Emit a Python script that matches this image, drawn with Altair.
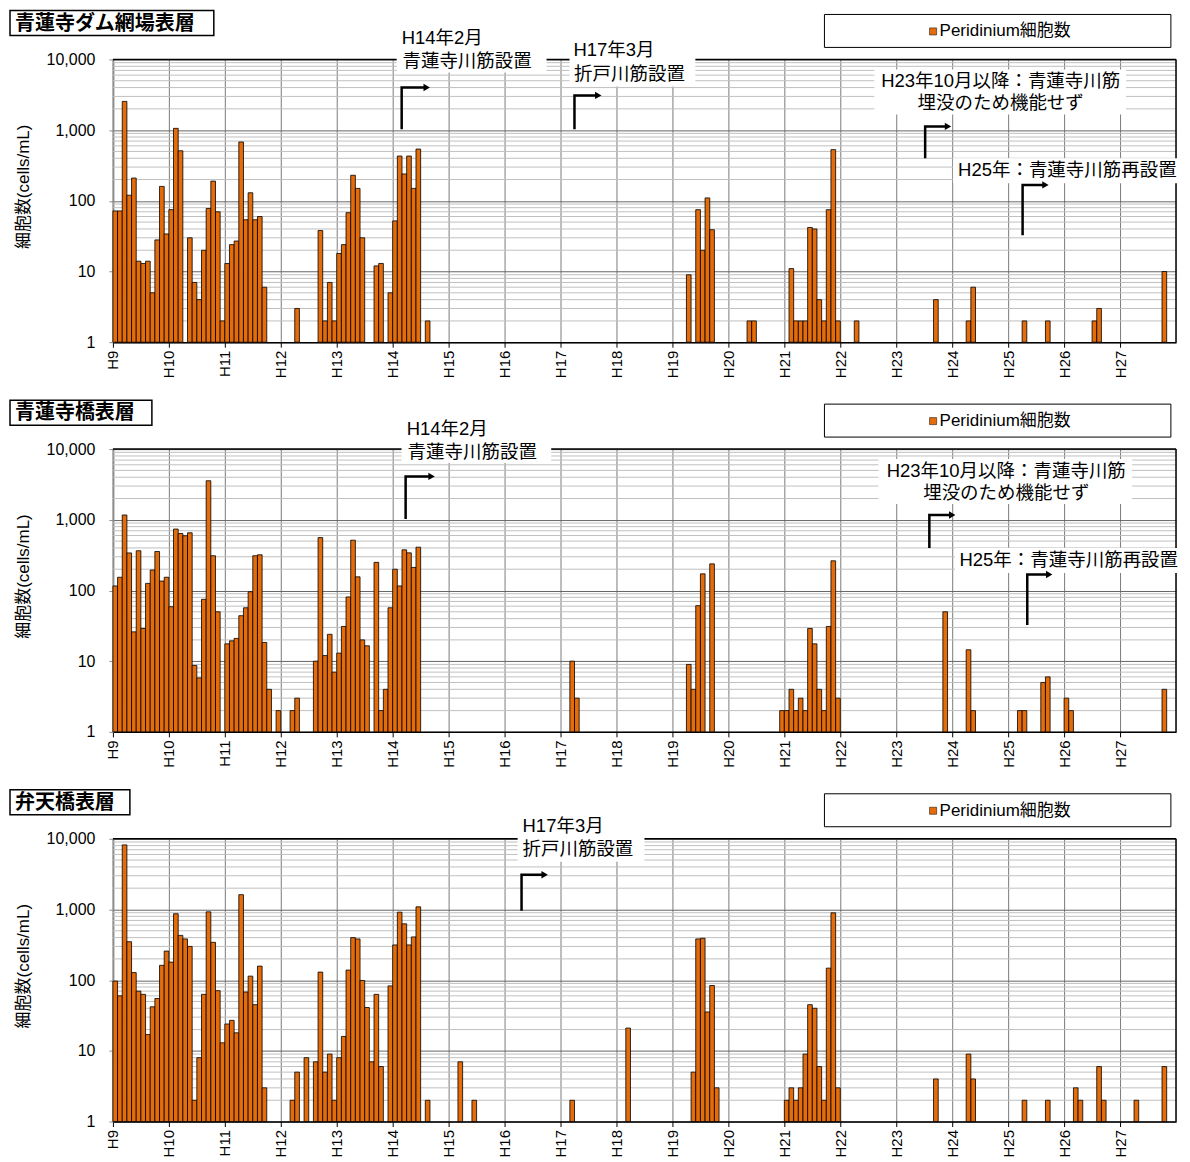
import altair as alt
import pandas as pd

# ---------------- data ----------------
YEAR_LABELS = ["H9", "H10", "H11", "H12", "H13", "H14", "H15", "H16", "H17", "H18",
               "H19", "H20", "H21", "H22", "H23", "H24", "H25", "H26", "H27"]
N_MONTHS = 228  # H9 Jan .. H27 Dec, monthly

# 青蓮寺ダム網場表層  (month index from H9 Jan, cells/mL)
dam_month = [0, 1, 2, 3, 4, 5, 6, 7, 8, 9, 10, 11, 12, 13, 14, 16, 17, 18, 19, 20, 21, 22, 23,
             24, 25, 26, 27, 28, 29, 30, 31, 32, 39, 44, 45, 46, 47, 48, 49, 50, 51, 52, 53,
             56, 57, 59, 60, 61, 62, 63, 64, 65, 67, 123, 125, 126, 127, 128, 136, 137,
             145, 146, 147, 148, 149, 150, 151, 152, 153, 154, 155, 159, 176, 183, 184,
             195, 200, 210, 211, 225]
dam_cells = [72, 72, 2550, 120, 210, 14, 13, 14, 5, 28, 160, 34, 75, 1060, 510, 30, 7, 4, 20, 78, 190, 70, 2,
             13, 24, 27, 680, 54, 130, 54, 60, 6, 3, 38, 2, 7, 2, 18, 24, 68, 230, 150, 30,
             12, 13, 5, 52, 430, 240, 430, 150, 540, 2, 9, 75, 20, 110, 39, 2, 2,
             11, 2, 2, 2, 42, 40, 4, 2, 75, 530, 2, 2, 4, 2, 6,
             2, 2, 2, 3, 10]

# 青蓮寺橋表層
bridge_month = [0, 1, 2, 3, 4, 5, 6, 7, 8, 9, 10, 11, 12, 13, 14, 15, 16, 17, 18, 19, 20, 21, 22,
                24, 25, 26, 27, 28, 29, 30, 31, 32, 33, 35, 38, 39, 43, 44, 45, 46, 47, 48, 49,
                50, 51, 52, 53, 54, 56, 57, 58, 59, 60, 61, 62, 63, 64, 65, 98, 99,
                123, 124, 125, 126, 128, 143, 144, 145, 146, 147, 148, 149, 150, 151, 152,
                153, 154, 155, 178, 183, 184, 194, 195, 199, 200, 204, 205, 225]
bridge_cells = [116, 154, 1170, 340, 26, 365, 29, 126, 195, 356, 136, 154, 59, 740, 640, 595, 655, 8.7, 5.8, 75, 3570, 310, 50,
                17.6, 19.4, 21, 44, 57, 96, 310, 320, 18.4, 4, 2, 2, 3, 10, 560, 12, 24, 7, 13, 31,
                81, 515, 156, 20, 16.5, 250, 2, 4, 57, 200, 116, 376, 341, 212, 410, 10, 3,
                9, 4, 61, 172, 238, 2, 2, 4, 2, 3, 2, 29, 17.6, 4, 2,
                31, 263, 3, 50, 14.5, 2, 2, 2, 5, 6, 3, 2, 4]

# 弁天橋表層
benten_month = [0, 1, 2, 3, 4, 5, 6, 7, 8, 9, 10, 11, 12, 13, 14, 15, 16, 17, 18, 19, 20, 21, 22, 23,
                24, 25, 26, 27, 28, 29, 30, 31, 32, 38, 39, 41, 43, 44, 45, 46, 47, 48, 49, 50,
                51, 52, 53, 54, 55, 56, 57, 59, 60, 61, 62, 63, 64, 65, 67, 74, 77, 98, 110,
                124, 125, 126, 127, 128, 129, 144, 145, 146, 147, 148, 149, 150, 151, 152,
                153, 154, 155, 176, 183, 184, 195, 200, 206, 207, 211, 212, 219, 225]
benten_cells = [97, 60, 8200, 350, 128, 70, 63, 17, 42, 55, 162, 258, 180, 870, 430, 383, 300, 2, 8, 63, 926, 343, 71, 13,
                24, 27, 18, 1620, 68, 114, 45, 158, 3, 2, 5, 8, 7, 130, 5, 9, 2, 8, 16, 139,
                400, 383, 99, 41, 7, 63, 6, 83, 315, 916, 626, 315, 409, 1090, 2, 7, 2, 2, 21,
                5, 383, 391, 35.5, 84, 3, 2, 3, 2, 3, 9, 45, 40, 6, 2,
                148, 897, 3, 4, 9, 4, 2, 2, 3, 2, 6, 2, 2, 6]

SERIES_NAME = "Peridinium細胞数"
Y_TICKS = [1, 10, 100, 1000, 10000]
MINOR_GRID = [m * d for d in [1, 10, 100, 1000] for m in range(2, 10)]

# annotation texts
T_H14 = ["H14年2月", "青蓮寺川筋設置"]
T_H17 = ["H17年3月", "折戸川筋設置"]
T_H23 = ["H23年10月以降：青蓮寺川筋", "埋没のため機能せず"]
T_H25 = "H25年：青蓮寺川筋再設置"

# ---------------- style ----------------
ORANGE = "#E46C0A"
FONT = "Liberation Sans, Noto Sans CJK JP, sans-serif"
W, H = 1064, 283

xs = alt.Scale(domain=[0, N_MONTHS], nice=False, zero=False)
ys = alt.Scale(type="log", domain=[1, 10000], nice=False)

label_expr = "[" + ",".join("'%s'" % s for s in YEAR_LABELS) + "][round(datum.value / 12)]"

x_axis = alt.Axis(values=list(range(0, N_MONTHS - 11, 12)), labelExpr=label_expr, labelAngle=270,
                  labelFont=FONT, labelFontSize=15, labelColor="black", labelPadding=3,
                  tickSize=5, tickColor="black", domainColor="black", domainWidth=1.5,
                  grid=True, gridColor="#7a7a7a", gridWidth=1, title=None)
y_axis = alt.Axis(values=Y_TICKS, format=",", labelFont=FONT, labelFontSize=16, labelColor="black",
                  labelPadding=14, tickSize=4, tickColor="#8c8c8c", domainColor="#8c8c8c",
                  domainWidth=2, grid=True, gridColor="#666666", gridWidth=1,
                  title="細胞数(cells/mL)", titleFont=FONT, titleFontSize=17,
                  titleFontWeight="normal", titleColor="black", titleX=-89, titleY=127,
                  titleAlign="center", titleBaseline="middle", titleAngle=270)


def X(field):
    return alt.X(field, type="quantitative", scale=xs, axis=x_axis)


def Y(field):
    return alt.Y(field, type="quantitative", scale=ys, axis=y_axis)


def panel(name, name_right, months, cells, boxes, texts, arrows):
    grid_df = pd.DataFrame({"g": MINOR_GRID, "x0": 0, "x1": N_MONTHS})
    grid = alt.Chart(grid_df).mark_rule(color="#c0c0c0", strokeWidth=1).encode(
        x=X("x0"), x2=alt.X2("x1"), y=Y("g"))

    bar_df = pd.DataFrame({"m": months, "v": cells})
    bar_df["m2"] = bar_df["m"] + 1
    bar_df["base"] = 1
    bars = alt.Chart(bar_df).mark_bar(fill=ORANGE, stroke="black", strokeWidth=0.8).encode(
        x=X("m"), x2=alt.X2("m2"), y=Y("v"), y2=alt.Y2("base"))

    top_df = pd.DataFrame({"x0": [0], "x1": [N_MONTHS], "y": [10000]})
    top = alt.Chart(top_df).mark_rule(color="black", strokeWidth=1.5).encode(
        x=X("x0"), x2=alt.X2("x1"), y=Y("y"))
    right_df = pd.DataFrame({"x": [N_MONTHS], "y0": [1], "y1": [10000]})
    right = alt.Chart(right_df).mark_rule(color="black", strokeWidth=1.5).encode(
        x=X("x"), y=Y("y0"), y2=alt.Y2("y1"))

    box_df = pd.DataFrame(boxes, columns=["xa", "xb", "ya", "yb"])
    wboxes = alt.Chart(box_df).mark_rect(fill="white").encode(
        x=X("xa"), x2=alt.X2("xb"), y=Y("ya"), y2=alt.Y2("yb"))

    txt_df = pd.DataFrame(texts, columns=["tx", "ty", "t", "al"])
    txt_l = alt.Chart(txt_df).transform_filter(alt.datum.al == "left").mark_text(
        align="left", baseline="middle", font=FONT, fontSize=18.5, color="black").encode(
        x=X("tx"), y=Y("ty"), text="t:N")
    txt_c = alt.Chart(txt_df).transform_filter(alt.datum.al == "center").mark_text(
        align="center", baseline="middle", font=FONT, fontSize=18.5, color="black").encode(
        x=X("tx"), y=Y("ty"), text="t:N")

    rows = []
    heads = []
    for gi, (ax, yb, yt, xe) in enumerate(arrows):
        rows += [(gi, 0, ax, yb), (gi, 1, ax, yt), (gi, 2, xe, yt)]
        heads.append((xe, yt))
    arr_df = pd.DataFrame(rows, columns=["grp", "k", "ax", "ay"])
    arr = alt.Chart(arr_df).mark_line(color="black", strokeWidth=2.5, strokeJoin="miter",
                                       strokeCap="butt").encode(
        x=X("ax"), y=Y("ay"), detail="grp:N", order="k:Q")
    head_df = pd.DataFrame(heads, columns=["hx", "hy"])
    head = alt.Chart(head_df).mark_point(shape="triangle-right", filled=True, color="black",
                                         size=55, opacity=1).encode(x=X("hx"), y=Y("hy"))

    # panel title box
    tb_df = pd.DataFrame({"xa": [-22.07], "xb": [name_right], "ya": [49300], "yb": [21800]})
    tbox = alt.Chart(tb_df).mark_rect(fill="white", stroke="black", strokeWidth=1.5).encode(
        x=X("xa"), x2=alt.X2("xb"), y=Y("ya"), y2=alt.Y2("yb"))
    tt_df = pd.DataFrame({"tx": [-21.0], "ty": [32000], "t": [name]})
    ttext = alt.Chart(tt_df).mark_text(align="left", baseline="middle", font="Noto Sans CJK JP",
                                       fontSize=20, fontWeight="bold", color="black").encode(
        x=X("tx"), y=Y("ty"), text="t:N")

    # legend box
    lb_df = pd.DataFrame({"xa": [152.6], "xb": [226.9], "ya": [43300], "yb": [14800]})
    lbox = alt.Chart(lb_df).mark_rect(fill="white", stroke="black", strokeWidth=1).encode(
        x=X("xa"), x2=alt.X2("xb"), y=Y("ya"), y2=alt.Y2("yb"))
    ls_df = pd.DataFrame({"sx": [175.9], "sy": [24900]})
    lsym = alt.Chart(ls_df).mark_point(shape="square", filled=True, fill=ORANGE, stroke="black",
                                       strokeWidth=0.5, size=50, opacity=1).encode(
        x=X("sx"), y=Y("sy"))
    lt_df = pd.DataFrame({"tx": [177.3], "ty": [24900], "t": [SERIES_NAME]})
    ltext = alt.Chart(lt_df).mark_text(align="left", baseline="middle", font=FONT, fontSize=17,
                                       color="black").encode(x=X("tx"), y=Y("ty"), text="t:N")

    return alt.layer(grid, bars, top, right, wboxes, txt_l, txt_c, arr, head,
                     tbox, ttext, lbox, lsym, ltext).properties(width=W, height=H)


p1 = panel(
    "青蓮寺ダム網場表層", 21.64, dam_month, dam_cells,
    boxes=[(60.86, 93.0, 28300, 6550), (97.92, 124.92, 19200, 4150),
           (163.3, 217.3, 7220, 1670), (180.2, 229.0, 399, 177)],
    texts=[(61.93, 19800, T_H14[0], "left"), (62.1, 9370, T_H14[1], "left"),
           (98.78, 13400, T_H17[0], "left"), (98.9, 6140, T_H17[1], "left"),
           (190.4, 4890, T_H23[0], "center"), (190.4, 2390, T_H23[1], "center"),
           (204.7, 270, T_H25, "center")],
    arrows=[(61.93, 1026, 4020, 67.3), (98.99, 1026, 3100, 104.1),
            (174.2, 399, 1130, 179.1), (195.1, 32.5, 168, 200.0)])

p2 = panel(
    "青蓮寺橋表層", 8.36, bridge_month, bridge_cells,
    boxes=[(61.9, 94.0, 28300, 6340), (164.2, 218.6, 7220, 1670), (180.6, 229.0, 399, 177)],
    texts=[(63.0, 19200, T_H14[0], "left"), (63.2, 9070, T_H14[1], "left"),
           (191.6, 4890, T_H23[0], "center"), (191.6, 2390, T_H23[1], "center"),
           (205.0, 270, T_H25, "center")],
    arrows=[(62.78, 1026, 4110, 68.35), (175.1, 399, 1167, 180.0), (196.1, 32.5, 168, 200.8)])

p3 = panel(
    "弁天橋表層", 3.64, benten_month, benten_cells,
    boxes=[(86.8, 114.0, 22500, 4730)],
    texts=[(87.85, 15300, T_H17[0], "left"), (87.85, 7220, T_H17[1], "left")],
    arrows=[(87.64, 960, 3100, 92.6)])

chart = alt.vconcat(p1, p2, p3, spacing=107, bounds="flush", padding=0).configure_view(
    stroke=None).configure(background="white")

chart.save("out.html", embed_options={"renderer": "svg", "actions": False})
